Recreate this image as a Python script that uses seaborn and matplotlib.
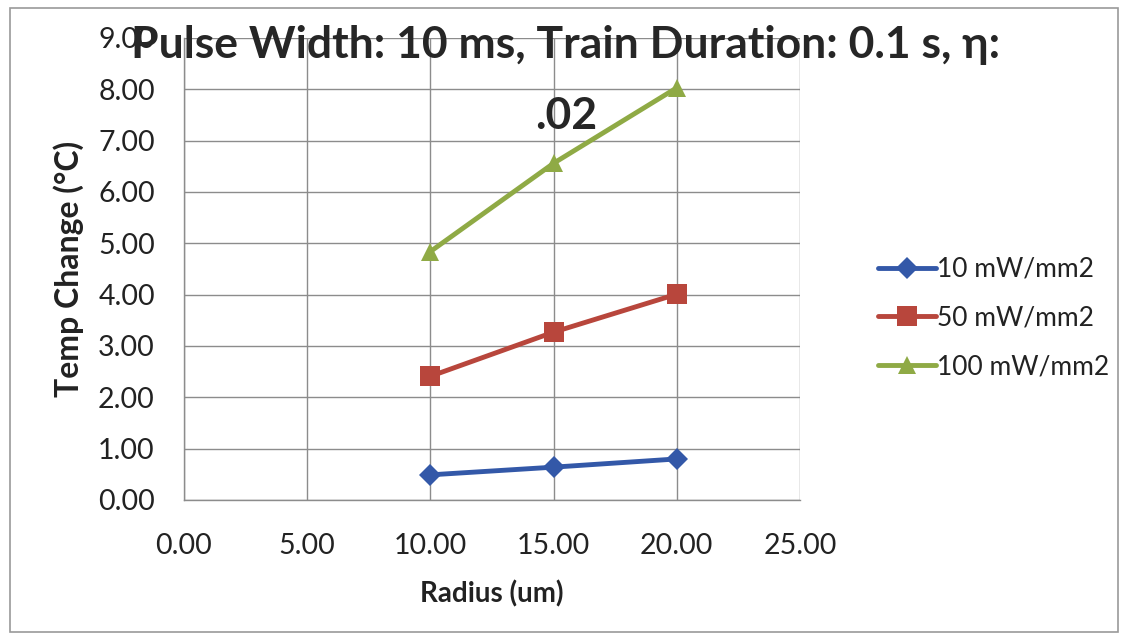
import matplotlib
matplotlib.use("Agg")
import matplotlib.pyplot as plt
import seaborn as sns
import pandas as pd
from matplotlib.patches import Rectangle

radius = [10.0, 15.0, 20.0]
series_names = ["10 mW/mm2", "50 mW/mm2", "100 mW/mm2"]
temp_10 = [0.49, 0.64, 0.80]
temp_50 = [2.41, 3.27, 4.01]
temp_100 = [4.84, 6.56, 8.03]
x_ticks = [0, 5, 10, 15, 20, 25]
y_ticks = [0, 1, 2, 3, 4, 5, 6, 7, 8, 9]

rows = []
for name, vals in zip(series_names, [temp_10, temp_50, temp_100]):
    for r, v in zip(radius, vals):
        rows.append({"Radius": r, "Temp": v, "Series": name})
df = pd.DataFrame(rows)

sns.set_style("white")
plt.rcParams['font.family'] = ['Lato', 'DejaVu Sans']

colors = {"10 mW/mm2": "#3358A8", "50 mW/mm2": "#B8463C", "100 mW/mm2": "#8FAA45"}
markers = {"10 mW/mm2": "D", "50 mW/mm2": "s", "100 mW/mm2": "^"}
marker_sizes = {"D": 11, "s": 14, "^": 13}

fig = plt.figure(figsize=(11.27, 6.4), dpi=100)
ax = fig.add_axes([184/1127, 140/640, (800-184)/1127, (500-38)/640])

sns.lineplot(data=df, x="Radius", y="Temp", hue="Series", style="Series",
             palette=colors, markers=markers, dashes=False, linewidth=3.5,
             markersize=11, markeredgewidth=0, ax=ax)
for ln in ax.lines:
    m = ln.get_marker()
    if m in marker_sizes:
        ln.set_markersize(marker_sizes[m])

ax.set_xlim(0, 25)
ax.set_ylim(0, 9)
ax.set_xticks(x_ticks)
ax.set_yticks(y_ticks)
ax.set_xticklabels([f"{v:.2f}" for v in x_ticks])
ax.set_yticklabels([f"{v:.2f}" for v in y_ticks])
ax.grid(True, color="#8c8c8c", linewidth=1.0)
ax.set_axisbelow(True)
for s in ["top", "right"]:
    ax.spines[s].set_visible(False)
for s in ["left", "bottom"]:
    ax.spines[s].set_color("#8c8c8c")
    ax.spines[s].set_linewidth(1.0)
ax.tick_params(axis="x", which="major", direction="out", length=7, color="#8c8c8c",
               labelsize=20.5, pad=17, labelcolor="#222222")
ax.tick_params(axis="y", which="major", direction="out", length=7, color="#8c8c8c",
               labelsize=20.5, pad=14, labelcolor="#222222")

ax.set_xlabel("Radius (um)", fontsize=20, fontweight="bold", labelpad=15, color="#222222")
ax.set_ylabel("Temp Change (\u00b0C)", fontsize=23, fontweight="bold", labelpad=10, color="#222222")

fig.text(566/1127, 1 - 45/640, "Pulse Width: 10 ms, Train Duration: 0.1 s, \u03b7:",
         ha="center", va="center", fontsize=32, fontweight="bold", color="#262626")
fig.text(566/1127, 1 - 116/640, ".02",
         ha="center", va="center", fontsize=32, fontweight="bold", color="#262626")

leg = ax.legend(loc="center left", bbox_to_anchor=(878/1127, 322/640),
                bbox_transform=fig.transFigure, frameon=False, fontsize=19,
                handlelength=2.2, handletextpad=0.05, labelspacing=0.9,
                borderpad=0, borderaxespad=0)
for t in leg.get_texts():
    t.set_color("#222222")
for h in leg.legend_handles:
    m = h.get_marker()
    if m in marker_sizes:
        h.set_markersize(marker_sizes[m])

fig.patches.append(Rectangle((10/1127, 8/640), 1108/1127, 624/640, transform=fig.transFigure,
                             fill=False, edgecolor="#9a9a9a", linewidth=1.2))

fig.savefig("out.png", dpi=100)
